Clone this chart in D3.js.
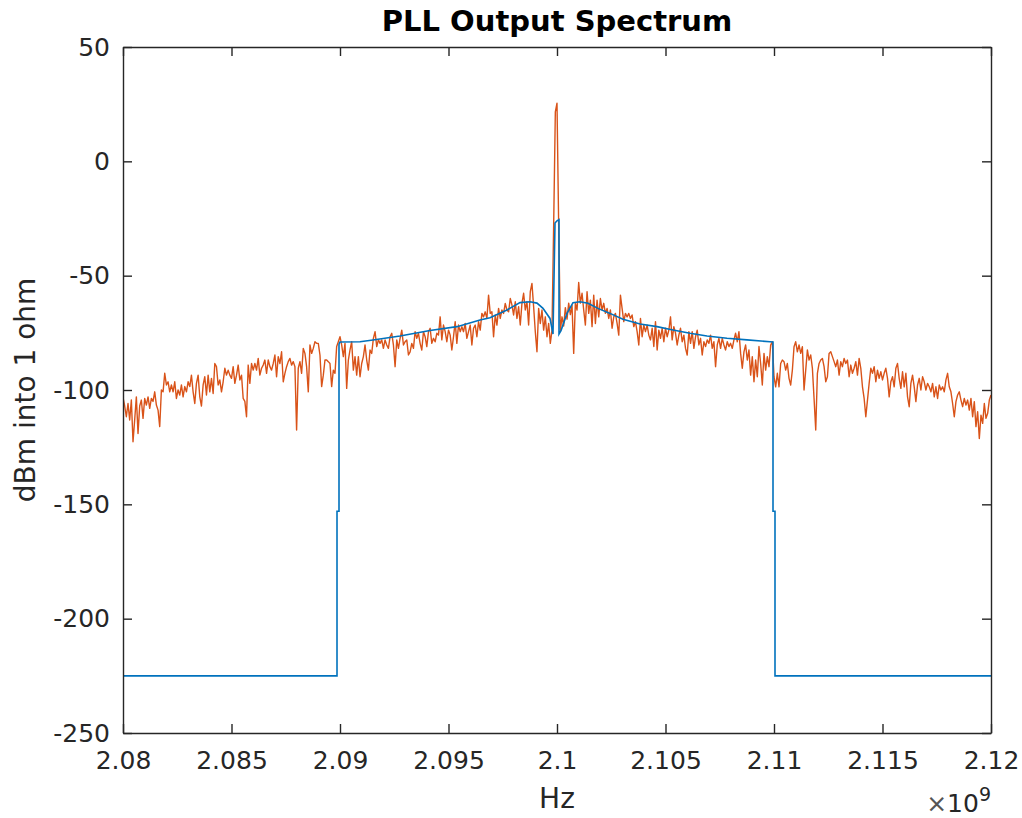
<!DOCTYPE html>
<html>
<head>
<meta charset="utf-8">
<script src="https://cdn.jsdelivr.net/npm/d3@7"></script>
<style>
  body { margin: 0; background: #fff; }
  svg text { font-family: "DejaVu Sans", sans-serif; fill: #262626; }
</style>
</head>
<body>
<div id="chart"></div>
<script>
// tick values / labels
const xTicks = [2.08e9, 2.085e9, 2.09e9, 2.095e9, 2.1e9, 2.105e9, 2.11e9, 2.115e9, 2.12e9];
const xTickLabels = ["2.08", "2.085", "2.09", "2.095", "2.1", "2.105", "2.11", "2.115", "2.12"];
const yTicks = [50, 0, -50, -100, -150, -200, -250];

// blue trace (GHz, dBm)
const blueFreq = [2.08, 2.089862, 2.089862, 2.089954, 2.089954, 2.0900, 2.090922, 2.091521, 2.092765, 2.094147,
  2.095392, 2.096452, 2.096912, 2.097696, 2.098295, 2.098756, 2.099078, 2.099355, 2.099677, 2.099816,
  2.099908, 2.1, 2.100092, 2.100092, 2.100184, 2.100461, 2.100737, 2.101060, 2.101429, 2.101889,
  2.102442, 2.103041, 2.103825, 2.104608, 2.105346, 2.106129, 2.106912, 2.107834, 2.108756, 2.109816,
  2.109954, 2.109954, 2.110046, 2.110046, 2.12];
const blueDb = [-225, -225, -153, -153, -80, -79, -78.9, -78.1, -76.4, -74,
  -72.3, -69.4, -68.4, -65, -61.8, -61.4, -62, -64.3, -68.7, -75.5,
  -27, -26, -25.5, -75.5, -74, -66.5, -61.8, -61.4, -62.1, -64.3,
  -66.5, -69.1, -71.1, -72.3, -73.8, -75.2, -76.4, -77.4, -78.1, -78.9,
  -79, -153, -153, -225, -225];

// orange trace, evenly spaced from 2.08 to 2.12 GHz
const orangeLow = [
  -103.2, -107, -111.7, -105.9, -113.1, -104.4, -122.6, -113, -103, -119,
  -107, -104.4, -112.4, -103.7, -106.6, -103, -108, -103.7, -105, -100.8,
  -106.6, -108.8, -116, -100, -100.8, -92.7, -97.8, -96.4, -100.8, -97.8,
  -100.8, -96.4, -103.7, -100, -102.2, -97.8, -103, -98.5, -100.8, -96.4,
  -98.5, -93.5, -100.8, -105.9, -97.1, -93.5, -103, -107, -97.8, -94.2,
  -102.2, -93.5, -100.8, -94.9, -101.5, -88.4, -89.8, -97.8, -95.6, -100.8,
  -96.4, -90.5, -93.5, -91.3, -93.5, -94.9, -89.8, -97.1, -93.5, -89.1,
  -95.6, -93.5, -103.7, -105, -111.7, -89.1, -97.1, -88.4, -91.3, -88.4,
  -91.3, -86.2, -93.5, -90.5, -89.1, -86.9, -92.7, -86.9, -89.8, -91.3,
  -88.4, -84.7, -94.2, -85.4, -88.4, -83.3, -96.4, -92.7, -89.8, -87.6,
  -86.2, -89.1, -87.6, -89.8, -117.5, -90.5, -87.6, -92.7, -81.8, -84,
  -89.8, -100.8, -80.3, -84, -81.8, -78.9, -79.6, -79.6, -84.7, -98.5,
  -93.5, -86.9, -86.9, -87.6, -88.4, -98.5, -91.3, -92.7, -81, -78.9, -76.7];
const orangeRise = [
  -80.3, -85.4, -79.6, -99.3, -86.9, -82.5, -78.9, -91.3, -85.4, -93.5,
  -85.4, -94.2, -88.4, -85.4, -80.3, -86.9, -91.3, -82.5, -84, -77.4,
  -74.5, -81, -78.1, -79.6, -78.1, -81.8, -78.1, -80.3, -81.8, -76.7,
  -75.2, -80.3, -89.8, -78.1, -81.8, -77.4, -73.8, -80.3, -78.9, -78.1,
  -84.7, -83.3, -79.6, -81.8, -74.5, -77.4, -75.2, -79.6, -82.5, -74.5,
  -76.7, -81, -74.5, -73, -79.6, -77.4, -78.9, -75.2, -76, -68,
  -78.1, -71.6, -74.5, -78.9, -73.8, -76, -82.5, -76.7, -70.1, -79.6,
  -71.6, -74.5, -72.3, -74.5, -70.9, -77.4, -74.5, -71.6, -80.3, -73,
  -71.6, -76.7, -70.1, -73.8, -66.5, -68, -65.8, -68.7, -58.5, -66.5,
  -65.8, -76.7, -67.2, -71.6, -64.3, -68.7, -65, -66.5, -62.1, -65,
  -65.8, -60, -62.8, -67.2, -61.4, -68.7, -63.6, -71.6, -62.1, -57.7,
  -65, -61.4, -71.6, -57, -53.4, -63.6, -74.5, -83.3, -64.3,
  -70.9, -65, -73.8, -68, -76.7, -70.9, -79.6, -73.8];
const orangePeak = [-28, 21.6, 25.4, -28, -74];
const orangeFall = [
  -68, -72, -64, -69, -62, -67, -63, -84, -62, -65, -53, -62,
  -57.7, -65, -71.6, -57, -66.5, -60.7, -72.3, -58.5, -70.9, -60.7,
  -68, -60, -65, -62.1, -66.5, -64.3, -68.7, -65, -73, -68,
  -66.5, -70.9, -76, -58.5, -64.3, -70.1, -66.5, -68, -66.5, -68.7,
  -67.2, -72.3, -70.1, -74.5, -80.3, -68.7, -76.7, -71.6, -74.5, -71.6,
  -76, -78.1, -73, -81, -70.1, -82.5, -73.8, -77.4, -73, -78.9,
  -73, -76.7, -73.8, -68, -78.1, -72.3, -75.2, -80.3, -76, -73,
  -78.9, -76, -81.8, -84.7, -74.5, -79.6, -74.5, -81.8, -76.7, -73.8,
  -80.3, -77.4, -84.7, -78.9, -81, -78.1, -79.6, -76, -81.8, -78.9,
  -89.8, -80.3, -77.4, -81.8, -77.4, -80.3, -82.5, -78.9, -81, -79.6,
  -81.8, -78.1, -75.2, -78.9, -74.5, -84, -90.5, -83.3, -80.3, -86.9,
  -82.5, -93.5, -85.4, -96.4, -86.9, -94.2, -81, -88.4, -97.8, -84,
  -91.3, -85.4, -89.8, -80.3, -78.9, -94.2];
const orangeHigh = [
  -98.6, -92.7, -98.6, -88.4, -86.9, -87.6, -91.3, -88.4, -94.9, -97.8,
  -91.3, -81.1, -78.9, -83.3, -80.3, -84, -81.1, -100, -91.3, -82.5,
  -86.9, -84.7, -90.5, -103.7, -117.5, -92.7, -88.4, -86.9, -86.2, -89.8,
  -96.4, -94.2, -84, -83.3, -85.4, -87.6, -89.8, -86.9, -93.5, -87.6,
  -89.8, -86.2, -88.4, -86.9, -94.2, -89.1, -92.7, -90.5, -87.6, -93.5,
  -86.2, -90.5, -98.6, -103.7, -111.7, -104.4, -97.1, -90.5, -92.7, -89.8,
  -96.4, -91.3, -94.9, -92, -95.6, -92.7, -90.5, -94.9, -103, -96.4,
  -94.2, -98.6, -90.5, -88.4, -94.9, -99.3, -92, -98.6, -92.7, -103,
  -107.3, -97.1, -93.5, -98.6, -105.1, -97.8, -94.9, -100, -94.2, -96.4,
  -100, -97.1, -98.6, -100.8, -97.1, -103, -98.6, -103.7, -97.8, -100,
  -98.6, -100.8, -95.6, -92.7, -98.6, -100.8, -105.9, -111.7, -105.1, -102.2,
  -100.8, -104.4, -107.3, -103.7, -106.6, -104.4, -108.8, -103.7, -111.7, -105.1,
  -116, -109.5, -121.2, -111, -114.6, -105.9, -112.4, -110.2, -104.4, -102.2];

const margin = {top: 47, right: 31, bottom: 85, left: 123};
const width = 1022 - margin.left - margin.right;
const height = 818 - margin.top - margin.bottom;
const axisColor = "#262626";

const svgRoot = d3.select("#chart").append("svg")
  .attr("width", 1022)
  .attr("height", 818);

const svg = svgRoot.append("g")
  .attr("transform", `translate(${margin.left},${margin.top})`);

const xScale = d3.scaleLinear().domain([2.08e9, 2.12e9]).range([0, width]);
const yScale = d3.scaleLinear().domain([-250, 50]).range([height, 0]);

const blueData = blueFreq.map((f, i) => ({f: f * 1e9, v: blueDb[i]}));
const orangeDb = [...orangeLow, ...orangeRise, ...orangePeak, ...orangeFall, ...orangeHigh];
const step = 0.04e9 / (orangeDb.length - 1);
const orangeData = orangeDb.map((v, i) => ({f: 2.08e9 + i * step, v}));

const line = d3.line()
  .x(d => xScale(d.f))
  .y(d => yScale(d.v));

svg.append("defs").append("clipPath").attr("id", "clip")
  .append("rect").attr("width", width).attr("height", height);

const plot = svg.append("g").attr("clip-path", "url(#clip)");

// orange (measured) spectrum
plot.append("path")
  .datum(orangeData)
  .attr("fill", "none")
  .attr("stroke", "#D95319")
  .attr("stroke-width", 1.4)
  .attr("stroke-linejoin", "round")
  .attr("d", line);

// blue (model) spectrum
plot.append("path")
  .datum(blueData)
  .attr("fill", "none")
  .attr("stroke", "#0072BD")
  .attr("stroke-width", 1.6)
  .attr("d", line);

// axes, MATLAB style with inward ticks
const styleAxis = g => {
  g.select(".domain").attr("stroke", axisColor).attr("stroke-width", 1.4);
  g.selectAll(".tick line").attr("stroke", axisColor).attr("stroke-width", 1.4);
  g.selectAll(".tick text").attr("fill", axisColor);
};

svg.append("g")
  .attr("transform", `translate(0,${height})`)
  .call(d3.axisBottom(xScale).tickValues(xTicks)
    .tickFormat((d, i) => xTickLabels[i])
    .tickSizeInner(-9).tickSizeOuter(0).tickPadding(18))
  .call(styleAxis)
  .selectAll("text").style("font-size", "25px");

svg.append("g")
  .call(d3.axisTop(xScale).tickValues(xTicks).tickFormat("")
    .tickSizeInner(-9).tickSizeOuter(0))
  .call(styleAxis);

svg.append("g")
  .call(d3.axisLeft(yScale).tickValues(yTicks)
    .tickFormat(d => d < 0 ? "-" + Math.abs(d) : d)
    .tickSizeInner(-9).tickSizeOuter(0).tickPadding(13))
  .call(styleAxis)
  .selectAll("text").style("font-size", "25px");

svg.append("g")
  .attr("transform", `translate(${width},0)`)
  .call(d3.axisRight(yScale).tickValues(yTicks).tickFormat("")
    .tickSizeInner(-9).tickSizeOuter(0))
  .call(styleAxis);

// title and labels
svgRoot.append("text")
  .attr("x", margin.left + width / 2)
  .attr("y", 31)
  .attr("text-anchor", "middle")
  .style("font-size", "29px")
  .style("font-weight", "bold")
  .style("fill", "#000")
  .text("PLL Output Spectrum");

svgRoot.append("text")
  .attr("x", margin.left + width / 2)
  .attr("y", 808)
  .attr("text-anchor", "middle")
  .style("font-size", "28px")
  .text("Hz");

svgRoot.append("text")
  .attr("transform", `translate(35,${margin.top + height / 2}) rotate(-90)`)
  .attr("text-anchor", "middle")
  .style("font-size", "28px")
  .text("dBm into 1 ohm");

const expo = svgRoot.append("text")
  .attr("x", margin.left + width)
  .attr("y", 812)
  .attr("text-anchor", "end")
  .style("font-size", "25px");
expo.append("tspan").style("fill", "#555").text("\u00d7");
expo.append("tspan").text("10");
expo.append("tspan").attr("dy", -11).style("font-size", "19px").text("9");
</script>
</body>
</html>
